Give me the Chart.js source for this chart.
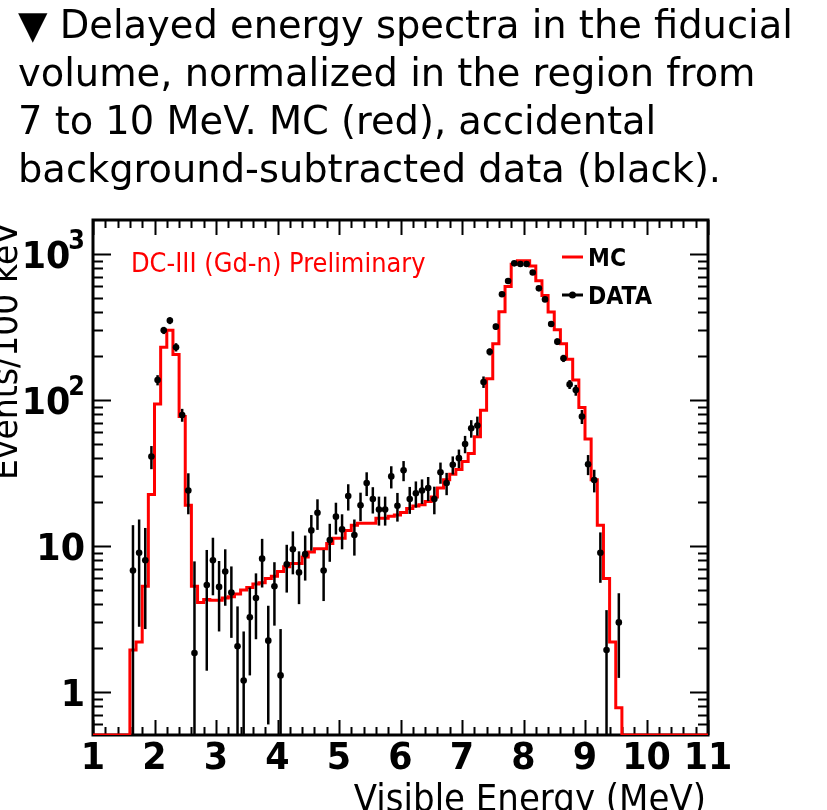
<!DOCTYPE html>
<html>
<head>
<meta charset="utf-8">
<script src="https://cdn.jsdelivr.net/npm/chart.js@4.4.0/dist/chart.umd.min.js"></script>
<style>
  html, body { margin: 0; padding: 0; background: #fff; overflow: hidden; }
  body { width: 827px; height: 810px; position: relative; }
  #caption {
    position: absolute; left: 18px; top: 1px; z-index: 2;
    font: 38.4px/48px "DejaVu Sans", sans-serif; color: #000; white-space: nowrap;
  }
  #wrap { position: absolute; left: 0; top: 0; width: 827px; height: 810px; }
</style>
</head>
<body>
<div id="caption">▼ Delayed energy spectra in the fiducial<br>volume, normalized in the region from<br>7 to 10 MeV. MC (red), accidental<br>background-subtracted data (black).</div>
<div id="wrap"><canvas id="chart"></canvas></div>
<script>
// 100 keV bins from 1 to 11 MeV
var binStart = 1.0;
var binWidth = 0.1;

// MC per bin, bins with lower edge 1.0 ... 10.9 MeV (0 = empty)
var mcCounts = [
  0, 0, 0, 0, 0, 0, 1.94, 2.2, 5.3, 22.5,
  94, 230, 300, 205, 77, 19, 5.3, 4.1, 4.3, 4.25,
  4.25, 4.4, 4.5, 4.7, 5.0, 5.2, 5.5, 5.6, 6.0, 6.2,
  6.7, 7.2, 7.6, 7.6, 8.4, 9.1, 9.6, 9.6, 10.4, 11.3,
  11.3, 12.8, 13.9, 14.3, 14.3, 14.3, 15.5, 15.5, 16.0, 16.3,
  17.0, 18.1, 18.8, 19.2, 20.2, 21.7, 25, 28.5, 31, 33.5,
  38, 43, 56, 85, 140, 243, 403, 600, 850, 900,
  900, 827, 655, 520, 400, 303, 243, 190, 137, 89,
  54, 28.5, 13.9, 6.0, 2.2, 0.78, 0, 0, 0, 0,
  0, 0, 0, 0, 0, 0, 0, 0, 0, 0
];

// background-subtracted data, same bins (null = no point drawn)
var dataCounts = [
  null, null, null, null, null, null, 6.8, 9.0, 8.0, 41,
  137, 300, 350, 230, 79, 24, 1.85, null, 5.4, 8.0,
  5.25, 6.7, 4.8, 2.06, 1.2, 3.25, 4.4, 8.2, 2.25, 5.3,
  1.3, 7.5, 9.5, 6.6, 8.8, 12.8, 16.9, 6.8, 11, 15.9,
  13, 22, 11.9, 19, 27, 21, 17.8, 17.8, 30, 18.9,
  33, 21, 23, 24, 25, 21, 32, 27, 36, 40,
  50, 64, 67, 133, 214, 318, 530, 653, 863, 855,
  855, 748, 582, 489, 332, 251, 193, 128, 117, 77,
  36.3, 28.3, 9.0, 1.94, null, 3.0, null, null, null, null,
  null, null, null, null, null, null, null, null, null, null
];
var dataErrors = [
  null, null, null, null, null, null, 7.1, 6.2, 5.3, 7.4,
  11, 17, 19, 15, 8, 7.5, 6.0, null, 4.0, 3.4,
  2.65, 2.8, 2.45, 1.8, 1.4, 1.95, 2.1, 3.0, 1.65, 2.45,
  1.4, 2.7, 3.1, 2.6, 3.0, 3.5, 4.0, 2.6, 3.2, 3.9,
  3.5, 4.5, 3.3, 4.2, 5.0, 4.3, 4.0, 4.0, 5.2, 4.2,
  5.2, 4.4, 4.7, 4.6, 4.7, 4.5, 5.3, 4.7, 5.1, 5.8,
  6.8, 8.8, 10, 12, 12, 15, 18, 20, 22, 22,
  22, 21, 19, 18, 15, 13, 11, 9, 10, 8.5,
  5.7, 5.0, 3.4, 1.7, null, 1.75, null, null, null, null,
  null, null, null, null, null, null, null, null, null, null
];

var xTickValues = [1, 2, 3, 4, 5, 6, 7, 8, 9, 10, 11];
var yTickValues = [1, 10, 100, 1000];
var yTickBase = ['1', '10', '10', '10'];
var yTickExp = ['', '', '2', '3'];

var yMin = 0.508, yMax = 1710;
var FONT = '"DejaVu Sans", sans-serif';

// histogram outline: one point per lower edge plus the last upper edge
var mcPoints = [];
for (var i = 0; i < mcCounts.length; i++) {
    mcPoints.push({ x: binStart + i * binWidth, y: mcCounts[i] > 0 ? mcCounts[i] : yMin });
}
mcPoints.push({ x: binStart + mcCounts.length * binWidth, y: mcPoints[mcPoints.length - 1].y });

var dataPoints = [];
for (var j = 0; j < dataCounts.length; j++) {
    if (dataCounts[j] === null) continue;
    dataPoints.push({ x: binStart + (j + 0.5) * binWidth, y: dataCounts[j], err: dataErrors[j] });
}

function putText(ctx, str, x, y, size, weight, align, color, sx) {
    ctx.save();
    ctx.font = weight + ' ' + size + 'px ' + FONT;
    ctx.fillStyle = color;
    ctx.textAlign = align;
    ctx.textBaseline = 'alphabetic';
    ctx.translate(x, y);
    ctx.scale(sx, 1);
    ctx.fillText(str, 0, 0);
    ctx.restore();
}

var errorBars = {
    id: 'errorBars',
    beforeDatasetDraw: function(chart, args) {
        if (args.index !== 0) return;
        var ctx = chart.ctx, a = chart.chartArea;
        var xs = chart.scales.x, ys = chart.scales.y;
        ctx.save();
        ctx.beginPath();
        ctx.rect(a.left, a.top, a.right - a.left, a.bottom - a.top);
        ctx.clip();
        ctx.strokeStyle = '#000';
        ctx.lineWidth = 2.5;
        dataPoints.forEach(function(p) {
            var px = xs.getPixelForValue(p.x);
            var lo = p.y - p.err;
            var yTop = ys.getPixelForValue(p.y + p.err);
            var yBot = lo > 0 ? ys.getPixelForValue(lo) : a.bottom + 2;
            ctx.beginPath();
            ctx.moveTo(px, yTop);
            ctx.lineTo(px, yBot);
            ctx.stroke();
        });
        ctx.restore();
    }
};

var rootFrame = {
    id: 'rootFrame',
    beforeDatasetsDraw: function(chart) {
        var ctx = chart.ctx, a = chart.chartArea;
        var xs = chart.scales.x, ys = chart.scales.y;
        ctx.save();
        ctx.strokeStyle = '#000';
        ctx.lineWidth = 2;
        // x ticks every 0.2 MeV, longer at integers, on bottom and top
        for (var k = 0; k <= 50; k++) {
            var v = 1 + k * 0.2;
            var px = Math.round(xs.getPixelForValue(v)) + 0.5;
            var len = (k % 5 === 0) ? 15 : 8;
            ctx.beginPath();
            ctx.moveTo(px, a.bottom); ctx.lineTo(px, a.bottom - len);
            ctx.moveTo(px, a.top); ctx.lineTo(px, a.top + len);
            ctx.stroke();
        }
        // y log ticks on left and right
        for (var d = -1; d <= 3; d++) {
            for (var m = 1; m <= 9; m++) {
                var val = m * Math.pow(10, d);
                if (val < yMin || val > yMax) continue;
                var py = Math.round(ys.getPixelForValue(val)) + 0.5;
                var l = (m === 1) ? 18 : 10;
                ctx.beginPath();
                ctx.moveTo(a.left, py); ctx.lineTo(a.left + l, py);
                ctx.moveTo(a.right, py); ctx.lineTo(a.right - l, py);
                ctx.stroke();
            }
        }
        ctx.lineWidth = 3;
        ctx.strokeRect(a.left, a.top, a.right - a.left, a.bottom - a.top);
        ctx.restore();
    },
    afterDraw: function(chart) {
        var ctx = chart.ctx, a = chart.chartArea;
        var xs = chart.scales.x, ys = chart.scales.y;
        var sx = 0.92;

        xTickValues.forEach(function(v) {
            putText(ctx, String(v), xs.getPixelForValue(v), a.bottom + 34, 38, 'bold', 'center', '#000', sx);
        });

        ctx.save();
        yTickValues.forEach(function(v, i) {
            var py = ys.getPixelForValue(v);
            ctx.font = 'bold 38px ' + FONT;
            var wBase = ctx.measureText(yTickBase[i]).width * sx;
            ctx.font = 'bold 26px ' + FONT;
            var wExp = yTickExp[i] ? ctx.measureText(yTickExp[i]).width * sx - 2 : 0;
            var x0 = a.left - 8 - wBase - wExp;
            putText(ctx, yTickBase[i], x0, py + 14, 38, 'bold', 'left', '#000', sx);
            if (yTickExp[i]) {
                putText(ctx, yTickExp[i], x0 + wBase - 2, py - 5, 26, 'bold', 'left', '#000', sx);
            }
        });
        ctx.restore();

        // axis titles, right-aligned to the axis ends as in ROOT
        putText(ctx, 'Visible Energy (MeV)', a.right - 2, 811, 37, 'normal', 'right', '#000', sx);
        ctx.save();
        ctx.translate(17, a.top + 2);
        ctx.rotate(-Math.PI / 2);
        putText(ctx, 'Events/100 keV', 0, 0, 36, 'normal', 'right', '#000', sx);
        ctx.restore();

        putText(ctx, 'DC-III (Gd-n) Preliminary', 131, 272, 26, 'normal', 'left', '#ff0000', 0.93);

        // legend
        ctx.save();
        ctx.lineWidth = 3;
        ctx.strokeStyle = '#ff0000';
        ctx.beginPath(); ctx.moveTo(562, 257); ctx.lineTo(583, 257); ctx.stroke();
        ctx.strokeStyle = '#000';
        ctx.beginPath(); ctx.moveTo(562, 295); ctx.lineTo(583, 295); ctx.stroke();
        ctx.fillStyle = '#000';
        ctx.beginPath(); ctx.arc(572.5, 295, 3.5, 0, Math.PI * 2); ctx.fill();
        ctx.restore();
        putText(ctx, 'MC', 588, 266, 25, 'bold', 'left', '#000', 0.88);
        putText(ctx, 'DATA', 588, 304, 25, 'bold', 'left', '#000', 0.88);
    }
};

new Chart(document.getElementById('chart').getContext('2d'), {
    type: 'line',
    data: {
        datasets: [{
            type: 'scatter',
            label: 'DATA',
            data: dataPoints,
            pointRadius: 3.3,
            pointBackgroundColor: '#000',
            pointBorderWidth: 0,
            showLine: false
        }, {
            type: 'line',
            label: 'MC',
            data: mcPoints,
            stepped: true,
            borderColor: '#ff0000',
            borderWidth: 3,
            pointRadius: 0,
            fill: false,
            tension: 0
        }]
    },
    options: {
        responsive: true,
        maintainAspectRatio: false,
        animation: false,
        layout: { padding: { left: 93, top: 220, right: 119, bottom: 75 } },
        scales: {
            x: { type: 'linear', min: 1, max: 11, display: false },
            y: { type: 'logarithmic', min: yMin, max: yMax, display: false }
        },
        plugins: {
            legend: { display: false },
            tooltip: { enabled: false }
        }
    },
    plugins: [errorBars, rootFrame]
});
</script>
</body>
</html>
